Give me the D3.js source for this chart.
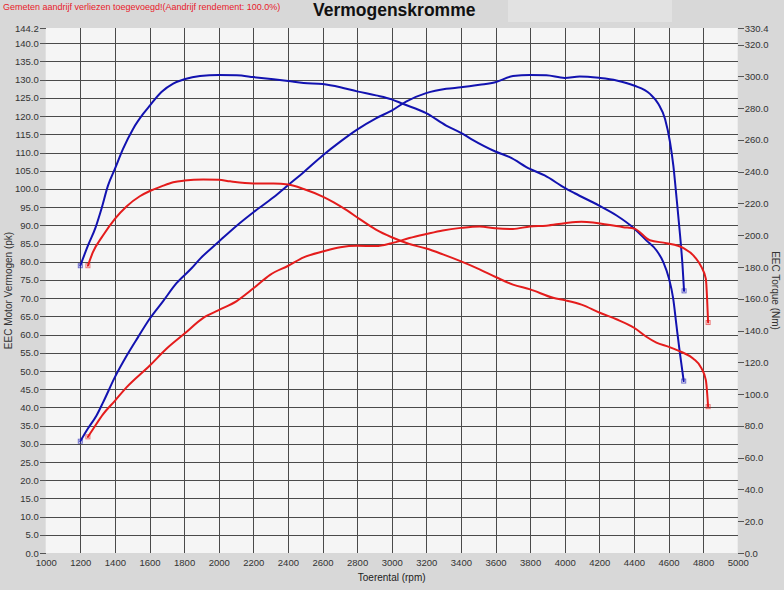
<!DOCTYPE html>
<html>
<head>
<meta charset="utf-8">
<script src="https://cdn.jsdelivr.net/npm/d3@7"></script>
<style>
    body { margin: 0; background: #d8d8d8; }
    svg { display: block; font-family: "Liberation Sans", Arial, sans-serif; }
    .grid line { stroke: #4a4a4a; stroke-width: 1; shape-rendering: crispEdges; }
    .axis text { fill: #333; font-size: 9.5px; }
    .axis line { stroke: #555; shape-rendering: crispEdges; }
    .axis path { display: none; }
    .curve { fill: none; stroke-width: 2; stroke-linejoin: round; stroke-linecap: round; }
</style>
</head>
<body>
<svg width="784" height="590"></svg>
<script>
// tick labels
const rpmTicks = d3.range(1000, 5001, 200);
const pkTicks = d3.range(0, 141, 5).concat([144.2]);
const nmTicks = d3.range(0, 321, 20).concat([330.4]);

// blue run: power (pk) and torque (Nm)
const bluePowerRpm = [1200, 1244, 1293, 1331, 1400, 1467, 1534, 1602, 1679, 1756, 1843, 1892, 2000, 2104, 2201, 2317, 2402, 2491, 2601, 2703, 2800, 2909, 3000, 3083, 3199, 3315, 3400, 3508, 3599, 3701, 3799, 3894, 4000, 4087, 4199, 4300, 4400, 4493, 4541, 4580, 4609, 4628, 4647, 4667, 4681, 4690];
const bluePowerPk = [30.7, 34.2, 37.7, 41.3, 48.3, 54.1, 59.3, 64.4, 69.2, 74.1, 78.2, 80.8, 85.5, 89.9, 93.6, 97.7, 101.1, 104.6, 109.2, 113.0, 116.3, 119.4, 121.5, 124.0, 126.3, 127.5, 127.9, 128.6, 129.3, 131.0, 131.3, 131.2, 130.5, 130.9, 130.5, 129.8, 128.4, 126.1, 123.4, 119.2, 112.8, 106.4, 97.3, 87.2, 79.0, 72.0];

const blueTorqueRpm = [1200, 1244, 1289, 1322, 1360, 1400, 1447, 1505, 1563, 1602, 1669, 1737, 1801, 1892, 2000, 2104, 2201, 2317, 2402, 2491, 2601, 2703, 2800, 2909, 3000, 3064, 3199, 3315, 3400, 3460, 3599, 3682, 3799, 3884, 4000, 4058, 4199, 4300, 4400, 4473, 4531, 4570, 4602, 4627, 4646, 4665, 4688];
const blueTorqueNm = [180.8, 193.4, 205.1, 216.5, 231.2, 241.7, 254.3, 266.9, 276.3, 281.6, 290.1, 295.4, 298.1, 300.2, 300.8, 300.6, 299.5, 298.1, 297.0, 295.8, 295.1, 293.1, 290.5, 288.0, 285.5, 282.7, 276.8, 269.0, 264.4, 260.5, 252.7, 249.1, 241.7, 237.6, 229.8, 226.4, 218.6, 212.4, 204.4, 196.6, 190.4, 183.1, 173.0, 160.2, 143.2, 126.5, 108.2];

// red run: power (pk) and torque (Nm)
const redPowerRpm = [1244, 1273, 1331, 1400, 1467, 1602, 1698, 1801, 1911, 2000, 2104, 2201, 2297, 2402, 2491, 2601, 2703, 2800, 2909, 3000, 3102, 3199, 3295, 3400, 3508, 3599, 3701, 3799, 3894, 4000, 4097, 4164, 4241, 4338, 4403, 4492, 4588, 4684, 4752, 4791, 4816, 4823, 4829];
const redPowerPk = [31.9, 34.0, 38.1, 41.8, 45.5, 51.5, 56.1, 60.2, 64.6, 66.7, 69.2, 72.7, 76.4, 78.9, 81.2, 82.8, 84.0, 84.4, 84.3, 85.1, 86.5, 87.6, 88.6, 89.3, 89.7, 89.2, 89.0, 89.7, 89.9, 90.6, 91.0, 90.8, 90.2, 89.5, 89.1, 85.9, 85.1, 83.8, 81.3, 78.5, 75.3, 69.9, 63.3];

const redTorqueRpm = [1244, 1273, 1331, 1400, 1467, 1544, 1602, 1669, 1737, 1801, 1911, 2000, 2066, 2201, 2317, 2402, 2491, 2601, 2665, 2742, 2813, 2909, 3000, 3102, 3200, 3296, 3401, 3508, 3601, 3701, 3801, 3933, 4004, 4097, 4203, 4299, 4403, 4472, 4530, 4602, 4675, 4742, 4791, 4816, 4829];
const redTorqueNm = [180.8, 189.3, 199.8, 210.3, 218.1, 224.5, 227.8, 230.7, 233.3, 234.4, 235.1, 234.9, 233.9, 232.6, 232.6, 231.9, 229.1, 224.3, 220.7, 215.6, 210.3, 203.5, 198.7, 194.5, 191.6, 187.9, 183.5, 178.5, 173.7, 168.9, 165.9, 160.6, 159.0, 156.3, 151.2, 147.1, 141.6, 136.1, 132.4, 129.7, 126.5, 122.4, 116.2, 108.8, 92.1];

const blue = "#1212b0";
const red = "#e41c1c";

const plot = { left: 45.7, right: 737.7, top: 28, bottom: 553 };

const svg = d3.select("svg");

const xScale = d3.scaleLinear().domain([1000, 5000]).range([plot.left, plot.right]);
const y1Scale = d3.scaleLinear().domain([0, 144.2]).range([plot.bottom, plot.top]);
const y2Scale = d3.scaleLinear().domain([0, 330.4]).range([plot.bottom, plot.top]);

// header strip
svg.append("rect")
    .attr("x", 508).attr("y", 0).attr("width", 164).attr("height", 22)
    .attr("fill", "#e2e2e2");

svg.append("text")
    .attr("x", 3).attr("y", 10)
    .attr("fill", "#e8202a")
    .attr("font-size", "9px")
    .text("Gemeten aandrijf verliezen toegevoegd!(Aandrijf rendement: 100.0%)");

svg.append("text")
    .attr("x", 313).attr("y", 16)
    .attr("font-size", "17.5px")
    .attr("font-weight", "bold")
    .attr("fill", "#111")
    .text("Vermogenskromme");

// plot background
svg.append("rect")
    .attr("x", plot.left).attr("y", plot.top)
    .attr("width", plot.right - plot.left).attr("height", plot.bottom - plot.top)
    .attr("fill", "#f5f5f5");

// grid
const grid = svg.append("g").attr("class", "grid");
grid.selectAll(".v").data(rpmTicks.filter(d => d > 1000 && d < 5000)).join("line")
    .attr("x1", d => Math.round(xScale(d)) + 0.5).attr("x2", d => Math.round(xScale(d)) + 0.5)
    .attr("y1", plot.top).attr("y2", plot.bottom);
grid.selectAll(".h").data(pkTicks.filter(d => d > 0 && d < 144)).join("line")
    .attr("x1", plot.left).attr("x2", plot.right)
    .attr("y1", d => Math.round(y1Scale(d)) + 0.5).attr("y2", d => Math.round(y1Scale(d)) + 0.5);

// axes
svg.append("g").attr("class", "axis")
    .attr("transform", `translate(${plot.left},0)`)
    .call(d3.axisLeft(y1Scale).tickValues(pkTicks).tickFormat(d3.format(".1f")).tickSize(6).tickPadding(1));

svg.append("g").attr("class", "axis")
    .attr("transform", `translate(${plot.right},0)`)
    .call(d3.axisRight(y2Scale).tickValues(nmTicks).tickFormat(d3.format(".1f")).tickSize(6).tickPadding(1));

svg.append("g").attr("class", "axis")
    .attr("transform", `translate(0,${plot.bottom})`)
    .call(d3.axisBottom(xScale).tickValues(rpmTicks).tickFormat(d3.format("d")).tickSize(0).tickPadding(6));

// axis titles
svg.append("text")
    .attr("transform", `translate(12,${(plot.top + plot.bottom) / 2}) rotate(-90)`)
    .attr("text-anchor", "middle").attr("font-size", "10px").attr("fill", "#333")
    .text("EEC Motor Vermogen (pk)");

svg.append("text")
    .attr("transform", `translate(772,${(plot.top + plot.bottom) / 2}) rotate(90)`)
    .attr("text-anchor", "middle").attr("font-size", "10px").attr("fill", "#333")
    .text("EEC Torque (Nm)");

svg.append("text")
    .attr("x", (plot.left + plot.right) / 2).attr("y", 581)
    .attr("text-anchor", "middle").attr("font-size", "10px").attr("fill", "#222")
    .text("Toerental (rpm)");

// curves
function drawCurve(rpm, values, yScale, color) {
    const pts = rpm.map((r, i) => [xScale(r), yScale(values[i])]);
    svg.append("path")
        .attr("class", "curve")
        .attr("stroke", color)
        .attr("d", d3.line().curve(d3.curveMonotoneX)(pts));

    // small markers at the ends, like the dyno software draws
    [pts[0], pts[pts.length - 1]].forEach(p => {
        svg.append("rect")
            .attr("x", p[0] - 2).attr("y", p[1] - 2)
            .attr("width", 4).attr("height", 4)
            .attr("fill", "none").attr("stroke", color).attr("stroke-opacity", 0.6);
    });
}

drawCurve(bluePowerRpm, bluePowerPk, y1Scale, blue);
drawCurve(blueTorqueRpm, blueTorqueNm, y2Scale, blue);
drawCurve(redPowerRpm, redPowerPk, y1Scale, red);
drawCurve(redTorqueRpm, redTorqueNm, y2Scale, red);
</script>
</body>
</html>
